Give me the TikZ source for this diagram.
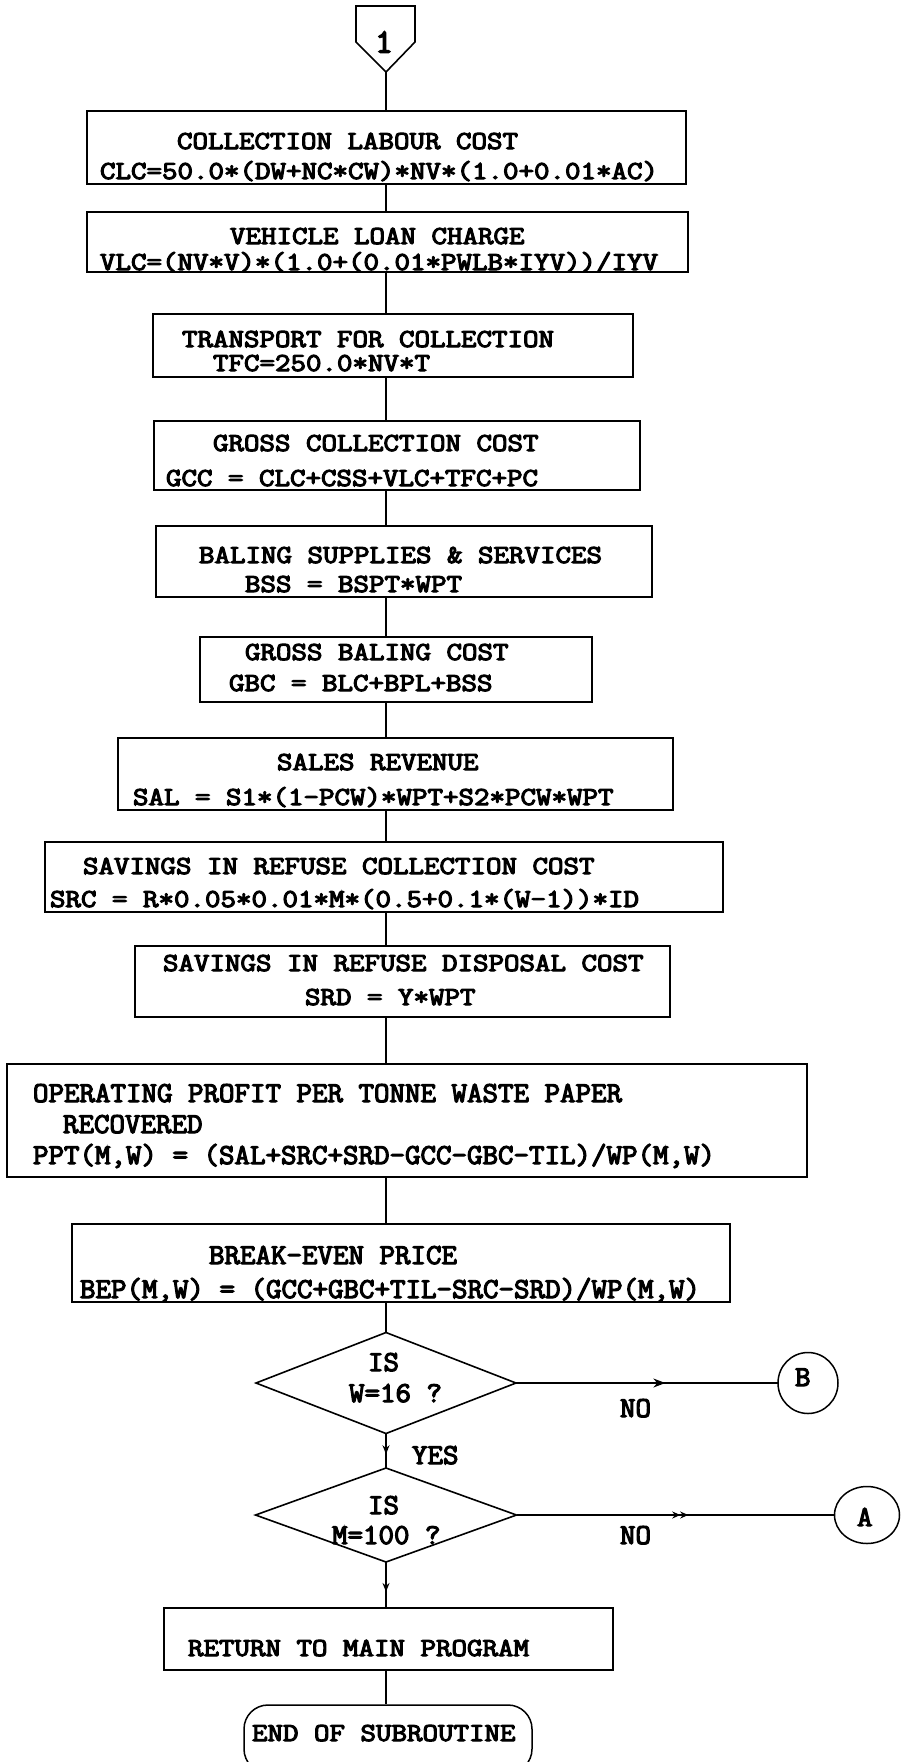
\documentclass[tikz,border=0pt]{standalone}
\usepackage{fontspec}
\usepackage{graphicx}
\usetikzlibrary{shapes.geometric,arrows.meta,decorations.markings}
\newfontfamily\tw{Latin Modern Mono}[FakeBold=4]
\newcommand\twf{\tw\fontsize{30.1}{32}\selectfont}
% text line: name, left x, baseline y, text
\newcommand\tline[4]{\node[tl] (#1) at (#2,#3) {\scalebox{1}[0.86]{\twf #4}};}
% taller (condensed-looking) text line
\newcommand\tlinet[4]{\node[tl] (#1) at (#2,#3) {\scalebox{1}[0.96]{\twf #4}};}
\newcommand\bx[5]{%
  \node[box, minimum width={(#4-#2)*1pt}, minimum height={(#5-#3)*1pt}] (#1) at ({(#2+#4)/2},{(#3+#5)/2}) {};%
}
\tikzset{
  box/.style={draw, line width=1.7pt, inner sep=0pt, outer sep=0pt},
  tl/.style={anchor=base west, inner sep=0pt, outer sep=0pt},
  conn/.style={line width=1.3pt},
  dia/.style={draw, diamond, line width=1.6pt, inner sep=0pt, outer sep=0pt},
  conncirc/.style={draw, ellipse, line width=1.5pt, inner sep=0pt, outer sep=0pt},
  midarrow/.style={postaction={decorate}, decoration={markings, mark=at position #1 with {\arrow{Stealth[length=12pt,width=9pt]}}}},
  smallarrow/.style={postaction={decorate}, decoration={markings, mark=at position #1 with {\arrow{Stealth[length=9pt,width=7pt]}}}},
}
\begin{document}
\begin{tikzpicture}[x=1pt,y=-1pt]
\useasboundingbox (0,0) rectangle (901,1762);
\coordinate (sp) at (386,0);
% off-page connector 1
\draw[line width=1.6pt] (356,6) -- (415,6) -- (415,42) -- (386,72) -- (356,42) -- cycle;
\coordinate (tip1) at (386,72);
\node[inner sep=0pt] (t1) at (384,42) {\tw\fontsize{34}{34}\selectfont 1};
% boxes
\bx{b1}{87}{111}{686}{184}
\bx{b2}{87}{212}{688}{272}
\bx{b3}{153}{314}{633}{377}
\bx{b4}{154}{421}{640}{490}
\bx{b5}{156}{526}{652}{597}
\bx{b6}{200}{637}{592}{702}
\bx{b7}{118}{738}{673}{810}
\bx{b8}{45}{842}{723}{912}
\bx{b9}{135}{946}{670}{1017}
\bx{b10}{7}{1064}{807}{1177}
\bx{b11}{72}{1224}{730}{1302}
\bx{b12}{164}{1608}{613}{1670}
\node[draw, line width=1.5pt, rounded corners=24pt, minimum width=288pt, minimum height=68pt, inner sep=0pt] (term) at (388,1739) {};
% texts
\tline{t1a}{177}{149}{COLLECTION LABOUR COST}
\tline{t1b}{100}{179}{CLC=50.0*(DW+NC*CW)*NV*(1.0+0.01*AC)}
\tline{t2a}{230}{244}{VEHICLE LOAN CHARGE}
\tline{t2b}{100}{270}{VLC=(NV*V)*(1.0+(0.01*PWLB*IYV))/IYV}
\tline{t3a}{182}{347}{TRANSPORT FOR COLLECTION}
\tline{t3b}{213}{371}{TFC=250.0*NV*T}
\tline{t4a}{213}{451}{GROSS COLLECTION COST}
\tline{t4b}{166}{486}{GCC = CLC+CSS+VLC+TFC+PC}
\tline{t5a}{199}{563}{BALING SUPPLIES \& SERVICES}
\tline{t5b}{245}{592}{BSS = BSPT*WPT}
\tline{t6a}{245}{660}{GROSS BALING COST}
\tline{t6b}{229}{691}{GBC = BLC+BPL+BSS}
\tline{t7a}{277}{770}{SALES REVENUE}
\tline{t7b}{133}{805}{SAL = S1*(1-PCW)*WPT+S2*PCW*WPT}
\tline{t8a}{83}{874}{SAVINGS IN REFUSE COLLECTION COST}
\tline{t8b}{50}{907}{SRC = R*0.05*0.01*M*(0.5+0.1*(W-1))*ID}
\tline{t9a}{163}{971}{SAVINGS IN REFUSE DISPOSAL COST}
\tline{t9b}{305}{1005}{SRD = Y*WPT}
\tlinet{t10a}{33}{1102}{OPERATING PROFIT PER TONNE WASTE PAPER}
\tlinet{t10b}{63}{1133}{RECOVERED}
\tlinet{t10c}{33}{1164}{PPT(M,W) = (SAL+SRC+SRD-GCC-GBC-TIL)/WP(M,W)}
\tlinet{t11a}{209}{1264}{BREAK-EVEN PRICE}
\tlinet{t11b}{80}{1298}{BEP(M,W) = (GCC+GBC+TIL-SRC-SRD)/WP(M,W)}
% decisions
\node[dia, minimum width=260pt, minimum height=101pt] (d1) at (386,1383) {};
\node[dia, minimum width=261pt, minimum height=94pt] (d2) at (386,1515) {};
\tlinet{tis1}{368}{1371}{IS}
\tlinet{tw16}{349}{1402}{W=16 ?}
\tlinet{tis2}{368}{1514}{IS}
\tlinet{tm100}{332}{1544}{M=100 ?}
\node[conncirc, minimum width=60pt, minimum height=61pt] (B) at (808,1383) {};
\node[conncirc, minimum width=65pt, minimum height=57pt] (A) at (867,1515) {};
\tlinet{tB}{795}{1386}{B}
\tlinet{tA}{857}{1526}{A}
\tlinet{tno1}{620}{1417}{NO}
\tlinet{tno2}{620}{1544}{NO}
\tlinet{tyes}{412}{1464}{YES}
\tline{tret}{188}{1656}{RETURN TO MAIN PROGRAM}
\tline{tend}{252}{1741}{END OF SUBROUTINE}
% connectors
\draw[conn] (tip1) -- (b1.north -| sp);
\draw[conn] (b1.south -| sp) -- (b2.north -| sp);
\draw[conn] (b2.south -| sp) -- (b3.north -| sp);
\draw[conn] (b3.south -| sp) -- (b4.north -| sp);
\draw[conn] (b4.south -| sp) -- (b5.north -| sp);
\draw[conn] (b5.south -| sp) -- (b6.north -| sp);
\draw[conn] (b6.south -| sp) -- (b7.north -| sp);
\draw[conn] (b7.south -| sp) -- (b8.north -| sp);
\draw[conn] (b8.south -| sp) -- (b9.north -| sp);
\draw[conn] (b9.south -| sp) -- (b10.north -| sp);
\draw[conn] (b10.south -| sp) -- (b11.north -| sp);
\draw[conn] (b11.south -| sp) -- (d1.north);
\draw[conn, smallarrow=0.6] (d1.south) -- (d2.north);
\draw[conn, midarrow=0.57] (d1.east) -- (B.west);
\draw[conn, postaction={decorate}, decoration={markings,
   mark=at position 0.515 with {\arrow{Stealth[length=8pt,width=7pt]}},
   mark=at position 0.54 with {\arrow{Stealth[length=8pt,width=7pt]}}}] (d2.east) -- (A.west);
\draw[conn, smallarrow=0.65] (d2.south) -- (b12.north -| sp);
\draw[conn] (b12.south -| sp) -- (term.north -| sp);
\end{tikzpicture}
\end{document}
